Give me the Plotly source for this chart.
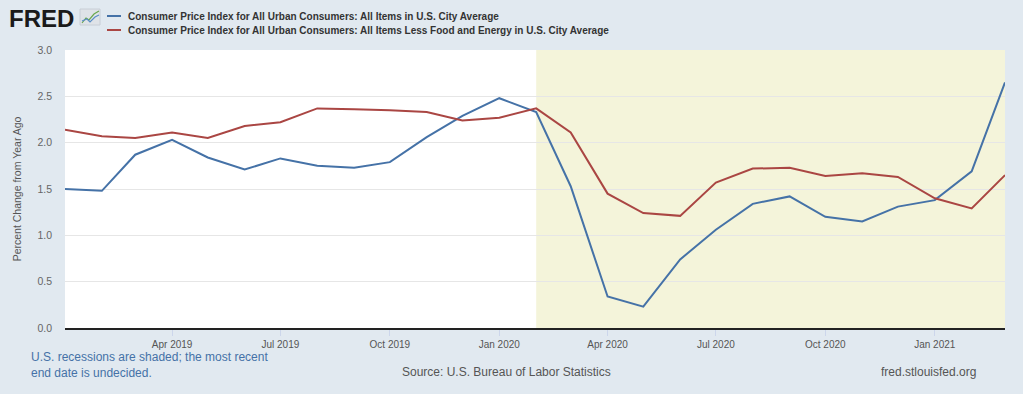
import plotly.graph_objects as go

# ---- data ----
months = ["2019-01-01", "2019-02-01", "2019-03-01", "2019-04-01", "2019-05-01", "2019-06-01",
          "2019-07-01", "2019-08-01", "2019-09-01", "2019-10-01", "2019-11-01", "2019-12-01",
          "2020-01-01", "2020-02-01", "2020-03-01", "2020-04-01", "2020-05-01", "2020-06-01",
          "2020-07-01", "2020-08-01", "2020-09-01", "2020-10-01", "2020-11-01", "2020-12-01",
          "2021-01-01", "2021-02-01", "2021-03-01"]
cpi_all = [1.50, 1.48, 1.87, 2.03, 1.84, 1.71, 1.83, 1.75, 1.73, 1.79, 2.06, 2.29,
           2.48, 2.33, 1.53, 0.34, 0.23, 0.74, 1.06, 1.34, 1.42, 1.20, 1.15, 1.31,
           1.38, 1.69, 2.65]
cpi_core = [2.14, 2.07, 2.05, 2.11, 2.05, 2.18, 2.22, 2.37, 2.36, 2.35, 2.33, 2.24,
            2.27, 2.37, 2.11, 1.45, 1.24, 1.21, 1.57, 1.72, 1.73, 1.64, 1.67, 1.63,
            1.40, 1.29, 1.65]
series_names = ["Consumer Price Index for All Urban Consumers: All Items in U.S. City Average",
                "Consumer Price Index for All Urban Consumers: All Items Less Food and Energy in U.S. City Average"]
x_tick_vals = ["2019-04-01", "2019-07-01", "2019-10-01", "2020-01-01",
               "2020-04-01", "2020-07-01", "2020-10-01", "2021-01-01"]
x_tick_text = ["Apr 2019", "Jul 2019", "Oct 2019", "Jan 2020",
               "Apr 2020", "Jul 2020", "Oct 2020", "Jan 2021"]
recession_start = "2020-02-01"
recession_end = "2021-03-01"
y_title = "Percent Change from Year Ago"
note_text = "U.S. recessions are shaded; the most recent<br>end date is undecided."
source_text = "Source: U.S. Bureau of Labor Statistics"
site_text = "fred.stlouisfed.org"

# ---- layout helpers (pixel -> paper) ----
W, H = 1023, 394
L, R, T, B = 65, 18, 50, 66
PW, PH = W - L - R, H - T - B


def px(x):
    return (x - L) / PW


def py(y):
    return (H - B - y) / PH


BLUE = "#4572a7"
RED = "#aa4643"
FONT = "Liberation Sans, Arial, sans-serif"

fig = go.Figure()
fig.add_trace(go.Scatter(x=months, y=cpi_all, mode="lines", name=series_names[0],
                         line=dict(color=BLUE, width=2), showlegend=False))
fig.add_trace(go.Scatter(x=months, y=cpi_core, mode="lines", name=series_names[1],
                         line=dict(color=RED, width=2), showlegend=False))

shapes = [
    dict(type="rect", xref="x", yref="paper", x0=recession_start, x1=recession_end, y0=0, y1=1,
         fillcolor="#f4f4da", line=dict(width=0), layer="below"),
    # legend samples
    dict(type="line", xref="paper", yref="paper", x0=px(107), x1=px(121), y0=py(16), y1=py(16),
         line=dict(color=BLUE, width=2)),
    dict(type="line", xref="paper", yref="paper", x0=px(107), x1=px(121), y0=py(30), y1=py(30),
         line=dict(color=RED, width=2)),
    # logo icon
    dict(type="rect", xref="paper", yref="paper", x0=px(80), x1=px(100), y0=py(25), y1=py(9),
         fillcolor="#dfe3e8", line=dict(color="#c8ced6", width=1)),
    dict(type="path", xref="paper", yref="paper",
         path="M {} {} L {} {} L {} {} L {} {} L {} {}".format(px(82), py(23), px(86), py(18), px(89), py(20),
                                                            px(94), py(14), px(99), py(11)),
         line=dict(color="#6aa84f", width=1.2)),
    dict(type="path", xref="paper", yref="paper",
         path="M {} {} L {} {} L {} {} L {} {} L {} {}".format(px(82), py(21), px(87), py(19), px(90), py(22),
                                                            px(95), py(17), px(99), py(15)),
         line=dict(color="#5b8fc7", width=1.2)),
]

annotations = [
    dict(text="<b>FRED</b>", x=px(7), y=py(18), xref="paper", yref="paper", xanchor="left", yanchor="middle",
         showarrow=False, font=dict(family="Liberation Sans, Arial", size=24, color="#1a1a1a")),
    dict(text="<b>" + series_names[0] + "</b>", x=px(126), y=py(16), xref="paper", yref="paper",
         xanchor="left", yanchor="middle", showarrow=False, font=dict(family=FONT, size=10, color="#333333")),
    dict(text="<b>" + series_names[1] + "</b>", x=px(126), y=py(30), xref="paper", yref="paper",
         xanchor="left", yanchor="middle", showarrow=False, font=dict(family=FONT, size=10, color="#333333")),
    dict(text=note_text, x=px(29), y=py(365), xref="paper", yref="paper", xanchor="left", yanchor="middle",
         align="left", showarrow=False, font=dict(family=FONT, size=12, color="#4572a7")),
    dict(text=source_text, x=px(506), y=py(372), xref="paper", yref="paper", xanchor="center",
         yanchor="middle", showarrow=False, font=dict(family=FONT, size=12, color="#555555")),
    dict(text=site_text, x=px(978), y=py(372), xref="paper", yref="paper", xanchor="right",
         yanchor="middle", showarrow=False, font=dict(family=FONT, size=12, color="#555555")),
]

fig.update_layout(
    width=W, height=H,
    margin=dict(l=L, r=R, t=T, b=B),
    paper_bgcolor="#e1e9f0",
    plot_bgcolor="#ffffff",
    font=dict(family=FONT, color="#555555"),
    shapes=shapes,
    annotations=annotations,
    hovermode=False,
    xaxis=dict(
        type="date", range=[months[0], months[-1]],
        tickmode="array", tickvals=x_tick_vals, ticktext=x_tick_text,
        showgrid=False, zeroline=False,
        showline=True, linecolor="#222222", linewidth=2,
        ticks="outside", ticklen=6, tickcolor="#ccd6eb", tickwidth=1,
        tickfont=dict(size=10, color="#555555"),
    ),
    yaxis=dict(
        range=[0, 3], dtick=0.5, tickformat=".1f",
        showgrid=True, gridcolor="#e6e6e6", gridwidth=1, zeroline=False,
        showline=False, ticks="", ticklabelstandoff=12,
        tickfont=dict(size=10.5, color="#666666"),
        title=dict(text=y_title, font=dict(size=10.5, color="#555555"), standoff=13),
    ),
)

fig.write_html("out.html", config={"displayModeBar": False},
               post_script="document.body.style.margin='0';document.body.style.overflow='hidden';")
